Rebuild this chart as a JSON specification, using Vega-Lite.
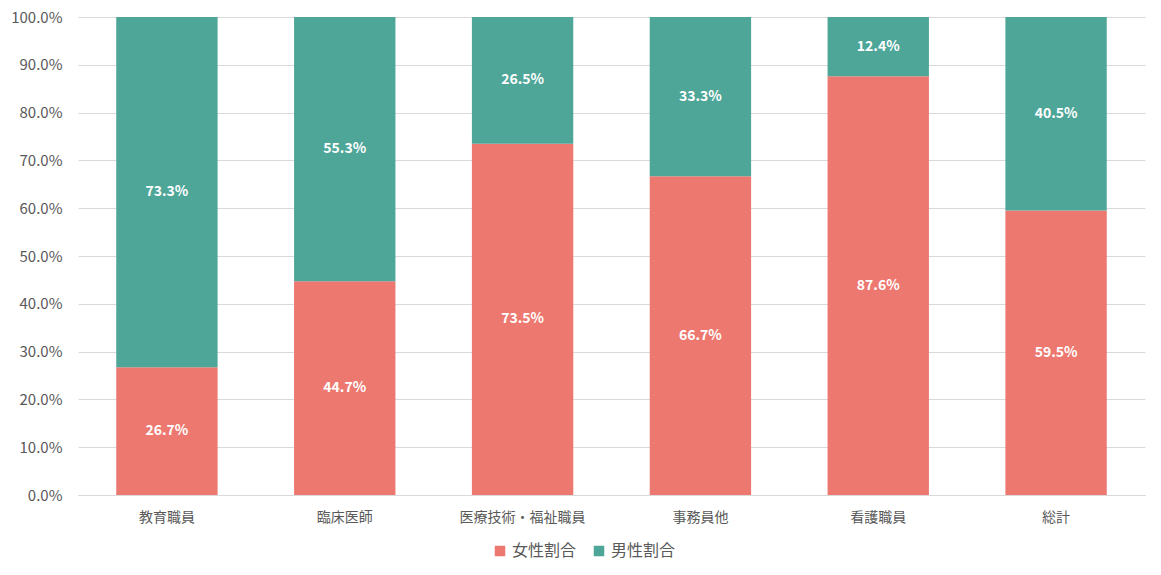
{
  "$schema": "https://vega.github.io/schema/vega-lite/v6.json",
  "width": 1067,
  "height": 478,
  "autosize": {"type": "none"},
  "padding": {"left": 78, "top": 17, "right": 16, "bottom": 80},
  "background": "white",
  "data": {
    "values": [
      {"cat": "教育職員", "sex": "女性割合", "ord": 1, "v": 0.267},
      {"cat": "教育職員", "sex": "男性割合", "ord": 2, "v": 0.733},
      {"cat": "臨床医師", "sex": "女性割合", "ord": 1, "v": 0.447},
      {"cat": "臨床医師", "sex": "男性割合", "ord": 2, "v": 0.553},
      {"cat": "医療技術・福祉職員", "sex": "女性割合", "ord": 1, "v": 0.735},
      {"cat": "医療技術・福祉職員", "sex": "男性割合", "ord": 2, "v": 0.265},
      {"cat": "事務員他", "sex": "女性割合", "ord": 1, "v": 0.667},
      {"cat": "事務員他", "sex": "男性割合", "ord": 2, "v": 0.333},
      {"cat": "看護職員", "sex": "女性割合", "ord": 1, "v": 0.876},
      {"cat": "看護職員", "sex": "男性割合", "ord": 2, "v": 0.124},
      {"cat": "総計", "sex": "女性割合", "ord": 1, "v": 0.595},
      {"cat": "総計", "sex": "男性割合", "ord": 2, "v": 0.405}
    ]
  },
  "transform": [
    {"stack": "v", "groupby": ["cat"], "sort": [{"field": "ord", "order": "ascending"}], "as": ["v0", "v1"]},
    {"calculate": "(datum.v0 + datum.v1) / 2", "as": "mid"}
  ],
  "encoding": {
    "x": {
      "field": "cat", "type": "nominal", "sort": null, "title": null,
      "scale": {"paddingInner": 0.43, "paddingOuter": 0.215},
      "axis": {
        "labelAngle": 0, "labelFontSize": 14, "labelColor": "#595959",
        "labelPadding": 15, "ticks": false, "domainColor": "#D9D9D9", "domainWidth": 1
      }
    }
  },
  "layer": [
    {
      "mark": {"type": "bar"},
      "encoding": {
        "y": {
          "field": "v0", "type": "quantitative", "title": null,
          "scale": {"domain": [0, 1]},
          "axis": {
            "format": ".1%", "values": [0, 0.1, 0.2, 0.3, 0.4, 0.5, 0.6, 0.7, 0.8, 0.9, 1],
            "labelFontSize": 15, "labelColor": "#595959", "labelPadding": 16,
            "domain": false, "ticks": false, "gridColor": "#D9D9D9", "gridWidth": 1
          }
        },
        "y2": {"field": "v1"},
        "color": {
          "field": "sex", "type": "nominal", "title": null,
          "scale": {"domain": ["女性割合", "男性割合"], "range": ["#ED7870", "#4EA699"]},
          "legend": {
            "orient": "none", "direction": "horizontal", "legendX": 414, "legendY": 526,
            "symbolType": "square", "symbolSize": 110, "symbolStrokeWidth": 0,
            "labelFontSize": 16, "labelColor": "#595959", "labelOffset": 4, "columnPadding": 14
          }
        }
      }
    },
    {
      "mark": {"type": "text", "color": "white", "fontWeight": "bold", "fontSize": 14, "baseline": "middle"},
      "encoding": {
        "y": {"field": "mid", "type": "quantitative"},
        "text": {"field": "v", "type": "quantitative", "format": ".1%"}
      }
    }
  ],
  "config": {
    "font": "Noto Sans CJK JP",
    "view": {"stroke": null}
  }
}
